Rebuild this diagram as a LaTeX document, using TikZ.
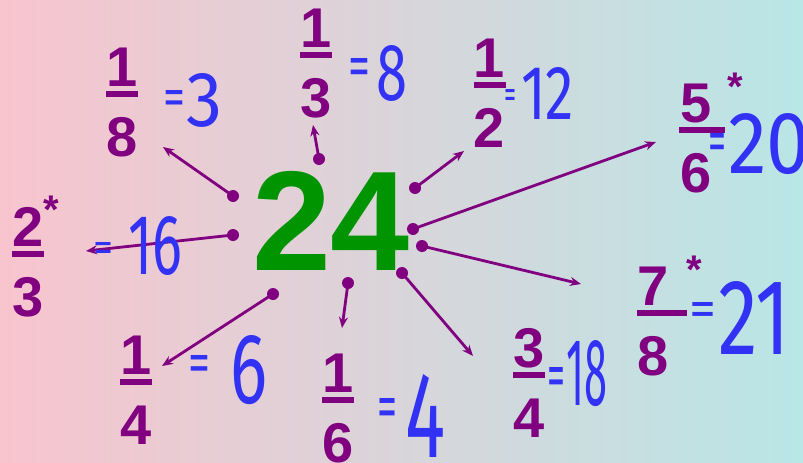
\documentclass[tikz,border=0pt]{standalone}
\usepackage{fontspec}
\setmainfont{Liberation Sans}
\newfontfamily\hwfont{Fira Sans}
\usetikzlibrary{arrows.meta}
\definecolor{fpurple}{RGB}{128,0,128}
\definecolor{fgreen}{RGB}{0,148,0}
\definecolor{hwblue}{RGB}{50,50,245}
\definecolor{bgL}{RGB}{248,196,206}
\definecolor{bgR}{RGB}{185,230,230}
\newcommand\hwbox[3]{\resizebox{#1pt}{#2pt}{\hwfont #3}}
\begin{document}
\begin{tikzpicture}[x=1pt,y=-1pt,
  fbar/.style={rectangle, fill=fpurple, draw=none, inner sep=0pt, minimum height=6pt},
  fdig/.style={text=fpurple, font=\bfseries\fontsize{56}{56}\selectfont, inner sep=0pt, anchor=base},
  fstar/.style={text=fpurple, font=\bfseries\fontsize{40}{40}\selectfont, inner sep=0pt, anchor=north},
  fdot/.style={circle, fill=fpurple, draw=none, inner sep=0pt, minimum size=12pt},
  farr/.style={draw=fpurple, line width=2.8pt, -{Stealth[length=11pt,width=9pt]}},
  hwnum/.style={text=hwblue, inner sep=0pt, anchor=south west},
  hweq/.style={text=hwblue, inner sep=0pt, anchor=north west},
]
\useasboundingbox (0,0) rectangle (803,463);
\shade[left color=bgL, right color=bgR] (0,0) rectangle (803,463);

% centre number
\node[text=fgreen, font=\bfseries\fontsize{142}{142}\selectfont, inner sep=0pt, anchor=base] (c24) at (331,270) {24};

% fractions: bar, numerator, denominator
\node[fbar, minimum width=32pt] (b18) at (122,94) {};
\node[fdig] (n18) at (122,86) {1};
\node[fdig] (d18) at (122,156) {8};

\node[fbar, minimum width=32pt] (b13) at (316,55) {};
\node[fdig] (n13) at (316,47) {1};
\node[fdig] (d13) at (316,117) {3};

\node[fbar, minimum width=32pt] (b12) at (490,85) {};
\node[fdig] (n12) at (489,77) {1};
\node[fdig] (d12) at (489,147) {2};

\node[fbar, minimum width=46pt] (b56) at (702,130) {};
\node[fdig] (n56) at (696,122) {5};
\node[fdig] (d56) at (696,192) {6};
\node[fstar] (s56) at (735,73) {*};

\node[fbar, minimum width=32pt] (b23) at (28,254) {};
\node[fdig] (n23) at (28,246) {2};
\node[fdig] (d23) at (28,316) {3};
\node[fstar] (s23) at (51,196) {*};

\node[fbar, minimum width=32pt] (b14) at (136,382) {};
\node[fdig] (n14) at (136,374) {1};
\node[fdig] (d14) at (136,444) {4};

\node[fbar, minimum width=32pt] (b16) at (338,400) {};
\node[fdig] (n16) at (338,392) {1};
\node[fdig] (d16) at (338,462) {6};

\node[fbar, minimum width=32pt] (b34) at (529,375) {};
\node[fdig] (n34) at (529,367) {3};
\node[fdig] (d34) at (529,437) {4};

\node[fbar, minimum width=50pt] (b78) at (662,313) {};
\node[fdig] (n78) at (653,305) {7};
\node[fdig] (d78) at (653,375) {8};
\node[fstar] (s78) at (694,256) {*};

% dots and arrows
\node[fdot] (p18) at (233,196) {};
\coordinate (t18) at (163,147);
\draw[farr] (p18.center) -- (t18);

\node[fdot] (p13) at (319,159) {};
\coordinate (t13) at (313,125);
\draw[farr] (p13.center) -- (t13);

\node[fdot] (p12) at (415,188) {};
\coordinate (t12) at (464,151);
\draw[farr] (p12.center) -- (t12);

\node[fdot] (p56) at (413,229) {};
\coordinate (t56) at (656,142);
\draw[farr] (p56.center) -- (t56);

\node[fdot] (p23) at (233,235) {};
\coordinate (t23) at (86,251);
\draw[farr] (p23.center) -- (t23);

\node[fdot] (p14) at (273,294) {};
\coordinate (t14) at (162,366);
\draw[farr] (p14.center) -- (t14);

\node[fdot] (p16) at (348,283) {};
\coordinate (t16) at (342,328);
\draw[farr] (p16.center) -- (t16);

\node[fdot] (p34) at (402,273) {};
\coordinate (t34) at (473,356);
\draw[farr] (p34.center) -- (t34);

\node[fdot] (p78) at (422,246) {};
\coordinate (t78) at (581,284);
\draw[farr] (p78.center) -- (t78);

% handwritten answers
\node[hweq] (e18) at (163,90) {\hwbox{22}{25}{=}};
\node[hwnum] (a18) at (186,128) {\hwbox{36}{53}{3}};

\node[hweq] (e13) at (348,58) {\hwbox{22}{28}{=}};
\node[hwnum] (a13) at (376,102) {\hwbox{31}{55}{8}};

\node[hweq] (e12) at (504,89) {\hwbox{12}{19}{=}};
\node[hwnum] (a12) at (521,120) {\hwbox{53}{52}{12}};

\node[hweq] (e56) at (708,133) {\hwbox{18}{28}{=}};
\node[hwnum] (a56) at (728,175) {\hwbox{82}{60}{20}};

\node[hweq] (e23) at (93,242) {\hwbox{20}{19}{=}};
\node[hwnum] (a23) at (128,276) {\hwbox{54}{58}{16}};

\node[hweq] (e14) at (188,355) {\hwbox{22}{27}{=}};
\node[hwnum] (a14) at (230,405) {\hwbox{37}{68}{6}};

\node[hweq] (e16) at (377,398) {\hwbox{20}{30}{=}};
\node[hwnum] (a16) at (405,458) {\hwbox{40}{83}{4}};

\node[hweq] (e34) at (547,367) {\hwbox{18}{30}{=}};
\node[hwnum] (a34) at (566,407) {\hwbox{41}{65}{18}};

\node[hweq] (e78) at (689,302) {\hwbox{27}{24}{=}};
\node[hwnum] (a78) at (718,355) {\hwbox{72}{73}{21}};
\end{tikzpicture}
\end{document}
